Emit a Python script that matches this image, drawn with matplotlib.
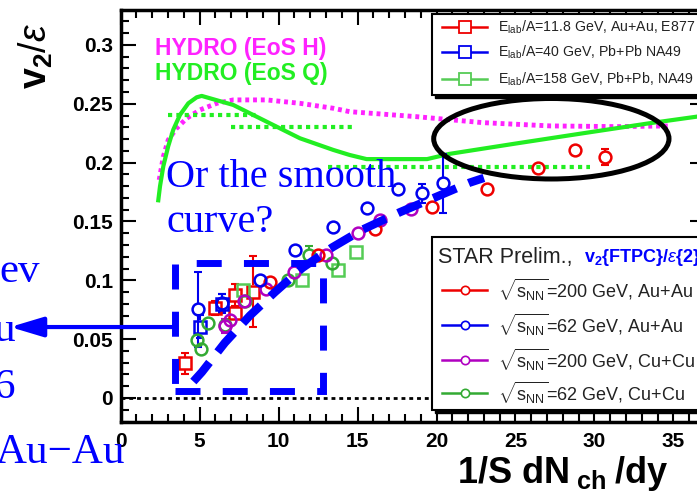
"""
v2/eps vs 1/S dNch/dy with hydro curves, re-drawn from a slide.
Writes: out.png
"""

import matplotlib

matplotlib.use("Agg")
import matplotlib.pyplot as plt
from matplotlib.patches import Ellipse, Rectangle

W, H = 697, 497

plt.rcParams["font.family"] = ["Liberation Sans", "DejaVu Sans"]
plt.rcParams["mathtext.fontset"] = "custom"
plt.rcParams["mathtext.rm"] = "Liberation Sans"
plt.rcParams["mathtext.bf"] = "Liberation Sans:bold"
plt.rcParams["mathtext.it"] = "Liberation Sans:italic"

# hydro curves
eos_q_x = [2.38, 2.49, 2.70, 3.01, 3.33, 3.75, 4.28, 4.81, 5.13, 7.13, 9.24, 11.35,
           13.46, 14.5, 15.57, 19.4, 20.8, 25.1, 29.3, 33.5, 36.6]
eos_q_y = [0.168, 0.180, 0.197, 0.214, 0.228, 0.2405, 0.2504, 0.2555, 0.2567, 0.249,
           0.2348, 0.2207, 0.2108, 0.2065, 0.203, 0.203, 0.2074, 0.2164, 0.225, 0.2335, 0.2393]
eos_h_x = [2.44, 2.70, 3.01, 3.54, 4.18, 5.02, 6.08, 7.13, 9.24, 11.35, 13.46, 14.5,
           18.7, 22.9, 27.2, 31.4, 34.8]
eos_h_y = [0.1853, 0.2051, 0.2193, 0.2292, 0.2377, 0.2448, 0.2504, 0.2533, 0.2533,
           0.2504, 0.2462, 0.2433, 0.2391, 0.234, 0.2312, 0.2306, 0.2312]
# flat dotted segments
seg_x0 = [3.0, 7.0, 13.1]
seg_x1 = [8.7, 14.7, 29.7]
seg_y = [0.2405, 0.2305, 0.196]

# the "smooth curve"
smooth_x = [4.6, 5.14, 6.6, 8.18, 9.77, 11.5, 13.4, 15.3, 17.7, 20.0, 22.1, 23.0]
smooth_y = [0.014, 0.022, 0.047, 0.070, 0.090, 0.1105, 0.128, 0.143, 0.158, 0.171, 0.183, 0.187]

# fixed-target data (squares)
e877_x = [4.1, 5.97, 7.25, 7.25, 8.39]
e877_y = [0.0295, 0.0762, 0.0725, 0.0875, 0.0903]
e877_err = [0.009, 0.006, 0.005, 0.009, 0.030]
na49_40_x = [5.05, 6.4]
na49_40_y = [0.0606, 0.080]
na49_40_err = [0.010, 0.008]
na49_158_x = [7.75, 11.45, 13.77, 14.9]
na49_158_y = [0.092, 0.1003, 0.1088, 0.1243]
na49_158_err = [0.004, 0.003, 0.003, 0.003]

# STAR (circles)
auau200_x = [9.45, 12.5, 16.1, 19.7, 23.2, 26.4, 28.75, 30.65]
auau200_y = [0.0988, 0.1215, 0.1435, 0.1626, 0.178, 0.1952, 0.2108, 0.205]
auau200_err = [0.002, 0.002, 0.002, 0.002, 0.002, 0.002, 0.002, 0.007]
auau62_x = [4.91, 6.4, 8.8, 11.03, 13.46, 15.57, 17.57, 19.05, 20.4]
auau62_y = [0.0754, 0.081, 0.1003, 0.1258, 0.1456, 0.1615, 0.178, 0.174, 0.1825]
auau62_err = [0.032, 0.007, 0.002, 0.002, 0.002, 0.002, 0.002, 0.008, 0.025]
cucu200_x = [6.6, 6.9, 7.8, 9.2, 11.0, 13.0, 15.0, 16.4, 18.4]
cucu200_y = [0.061, 0.066, 0.082, 0.093, 0.107, 0.1215, 0.140, 0.151, 0.161]
cucu200_err = [0.006, 0.005, 0.004, 0.003, 0.003, 0.003, 0.003, 0.003, 0.003]
cucu62_x = [4.8, 5.1, 5.55, 6.6, 7.9, 10.6, 11.9, 13.35]
cucu62_y = [0.049, 0.042, 0.064, 0.062, 0.082, 0.100, 0.1215, 0.1145]
cucu62_err = [0.003, 0.003, 0.003, 0.003, 0.003, 0.003, 0.008, 0.003]

# annotations (data units)
ellipse_xy = (27.27, 0.2203)
ellipse_wh = (14.9, 0.0684)
box_x = (3.44, 12.84)
box_y = (0.006, 0.1143)
arrow_y = 0.0603
arrow_tip_x = -7.0

legend1_labels = [r"E$_{\rm lab}$/A=11.8 GeV, Au+Au, E877",
                  r"E$_{\rm lab}$/A=40 GeV, Pb+Pb NA49",
                  r"E$_{\rm lab}$/A=158 GeV, Pb+Pb, NA49"]
legend2_labels = [r"$\sqrt{\mathrm{s}_{\rm NN}}$=200 GeV, Au+Au",
                  r"$\sqrt{\mathrm{s}_{\rm NN}}$=62 GeV, Au+Au",
                  r"$\sqrt{\mathrm{s}_{\rm NN}}$=200 GeV, Cu+Cu",
                  r"$\sqrt{\mathrm{s}_{\rm NN}}$=62 GeV, Cu+Cu"]

RED, BLUE, MAG, GRN = "#ee0000", "#0000ee", "#b000c0", "#33aa33"
SQ_GRN = "#55cc55"
HYD_GRN, HYD_MAG = "#22ee22", "#ff22ff"


def points(ax, x, y, err, color, marker, ms, r):
    # ROOT style: error bar only outside the open marker, small caps
    for xi, yi, ei in zip(x, y, err):
        if ei > r:
            ax.vlines([xi, xi], [yi + r, yi - ei], [yi + ei, yi - r], color=color,
                      lw=1.5, zorder=3)
            ax.plot([xi, xi], [yi - ei, yi + ei], ls="none", marker="_", ms=6,
                    mew=1.5, color=color, zorder=3)
    ax.plot(x, y, ls="none", marker=marker, ms=ms, mfc="none", mec=color, mew=1.8,
            zorder=4)


def main():
    fig = plt.figure(figsize=(W / 100, H / 100), dpi=100)
    ax = fig.add_axes([120.7 / W, (H - 422) / H, (705 - 120.7) / W, 412 / H])
    ax.set_xlim(0, 37)
    ax.set_ylim(-0.0204, 0.3297)

    ax.axhline(0, color="k", lw=2, ls=(0, (1.4, 1.4)), zorder=1)

    ax.plot(eos_h_x, eos_h_y, color=HYD_MAG, lw=3.5, ls=(0, (0.8, 0.8)), zorder=2)
    ax.plot(eos_q_x, eos_q_y, color=HYD_GRN, lw=3, zorder=2)
    for x0, x1, y in zip(seg_x0, seg_x1, seg_y):
        ax.plot([x0, x1], [y, y], color=HYD_GRN, lw=3, ls=(0, (1, 1)), zorder=2)

    points(ax, e877_x, e877_y, e877_err, RED, "s", 9, 0.0055)
    points(ax, na49_40_x, na49_40_y, na49_40_err, BLUE, "s", 9, 0.0055)
    points(ax, na49_158_x, na49_158_y, na49_158_err, SQ_GRN, "s", 9, 0.0055)
    points(ax, cucu62_x, cucu62_y, cucu62_err, GRN, "o", 8.5, 0.005)
    points(ax, cucu200_x, cucu200_y, cucu200_err, MAG, "o", 8.5, 0.005)
    points(ax, auau200_x, auau200_y, auau200_err, RED, "o", 8.5, 0.005)
    points(ax, auau62_x, auau62_y, auau62_err, BLUE, "o", 8.5, 0.005)

    # annotations drawn on the slide
    ax.plot(smooth_x, smooth_y, color="#0000ff", lw=6, ls=(0, (3, 1.6)), zorder=6)
    ax.add_patch(Ellipse(ellipse_xy, *ellipse_wh, fill=False, ec="k", lw=3.6, zorder=6))
    ax.add_patch(Rectangle((box_x[0], box_y[0]), box_x[1] - box_x[0], box_y[1] - box_y[0],
                           fill=False, ec="#0000ff", lw=5, ls=(0, (3.6, 3.2)), zorder=6))
    ax.annotate("", xy=(arrow_tip_x, arrow_y), xytext=(box_x[0], arrow_y),
                arrowprops=dict(arrowstyle="-|>,head_length=1.0,head_width=0.3",
                                mutation_scale=20, color="#0000ff", lw=3,
                                shrinkA=0, shrinkB=0),
                annotation_clip=False, zorder=6)

    # axes styling
    for s in ax.spines.values():
        s.set_linewidth(2.5)
    ax.set_xticks(range(0, 40, 5), labels=[str(v) for v in range(0, 40, 5)],
                  fontsize=15, fontweight="bold")
    yt = [0, 0.05, 0.1, 0.15, 0.2, 0.25, 0.3]
    ax.set_yticks(yt, labels=["%g" % v for v in yt], fontsize=15, fontweight="bold")
    ax.set_xticks(range(0, 38), minor=True)
    ax.set_yticks([i * 0.01 for i in range(-2, 33)], minor=True)
    ax.tick_params(which="both", direction="in", top=True, right=True, width=1.5)
    ax.tick_params(which="major", length=11)
    ax.tick_params(which="minor", length=5.5)
    ax.tick_params(axis="x", pad=7)
    ax.tick_params(axis="y", pad=5.5)

    # overlay in pixel units for slide text and legends
    ov = fig.add_axes([0, 0, 1, 1])
    ov.set_xlim(0, W)
    ov.set_ylim(H, 0)
    ov.axis("off")

    ov.text(36, 56, r"$\mathbf{v}_{\mathbf{2}}/\varepsilon$", rotation=90,
            ha="center", va="center", fontsize=27)
    ov.text(457, 483, r"1/S dN$_{\ \mathbf{ch}\ }$/dy", ha="left", va="baseline",
            fontsize=26, fontweight="bold")

    ov.text(155, 55, "HYDRO (EoS H)", color=HYD_MAG, fontsize=16.5, fontweight="bold",
            va="baseline")
    ov.text(155, 80, "HYDRO (EoS Q)", color=HYD_GRN, fontsize=16.5, fontweight="bold",
            va="baseline")

    serif = ["Liberation Serif", "DejaVu Serif"]
    ov.text(166, 187, "Or the smooth", family=serif, fontsize=29, color="#0000ff",
            va="baseline")
    ov.text(166, 232, "curve?", family=serif, fontsize=29, color="#0000ff",
            va="baseline")
    for txt, x, y in [("ev", 40, 282), ("u", 15, 341), ("6", 15, 398), ("Au\u2212Au", 125, 463)]:
        ov.text(x, y, txt, family=serif, fontsize=31, color="#0000ff",
                ha="right", va="baseline")

    # legend 1
    ov.add_patch(Rectangle((435, 17), 300, 81, color="k", zorder=10))
    ov.add_patch(Rectangle((432, 14), 300, 81, fc="white", ec="k", lw=1.5, zorder=11))
    for lab, col, yy in zip(legend1_labels, [RED, BLUE, SQ_GRN], [27, 52, 79]):
        ov.plot([442, 487], [yy, yy], color=col, lw=1.8, zorder=12)
        ov.plot([464.5], [yy], marker="s", ms=8, mfc="white", mec=col, mew=1.3, zorder=13)
        ov.text(498, yy, lab, fontsize=10.2, color="#222222", va="center", zorder=13)

    # legend 2
    ov.add_patch(Rectangle((435, 240), 300, 173, color="k", zorder=10))
    ov.add_patch(Rectangle((432, 237), 300, 173, fc="white", ec="k", lw=1.5, zorder=11))
    ov.text(438, 257, "STAR Prelim.,", fontsize=15.5, color="#222222", va="center", zorder=13)
    ov.text(584, 257, r"$\mathbf{v_{2}\{FTPC\}/}\varepsilon\mathbf{\{2\}}$", fontsize=13,
            color="#0000ff", va="center", zorder=13)
    for lab, col, yy in zip(legend2_labels, [RED, BLUE, MAG, GRN], [290, 325, 360, 393]):
        ov.plot([442, 487], [yy, yy], color=col, lw=1.8, zorder=12)
        ov.plot([464.5], [yy], marker="o", ms=6, mfc="white", mec=col, mew=1.2, zorder=13)
        ov.text(498, yy, lab, fontsize=13, color="#222222", va="center", zorder=13)

    fig.savefig("out.png", dpi=100)


if __name__ == "__main__":
    main()
